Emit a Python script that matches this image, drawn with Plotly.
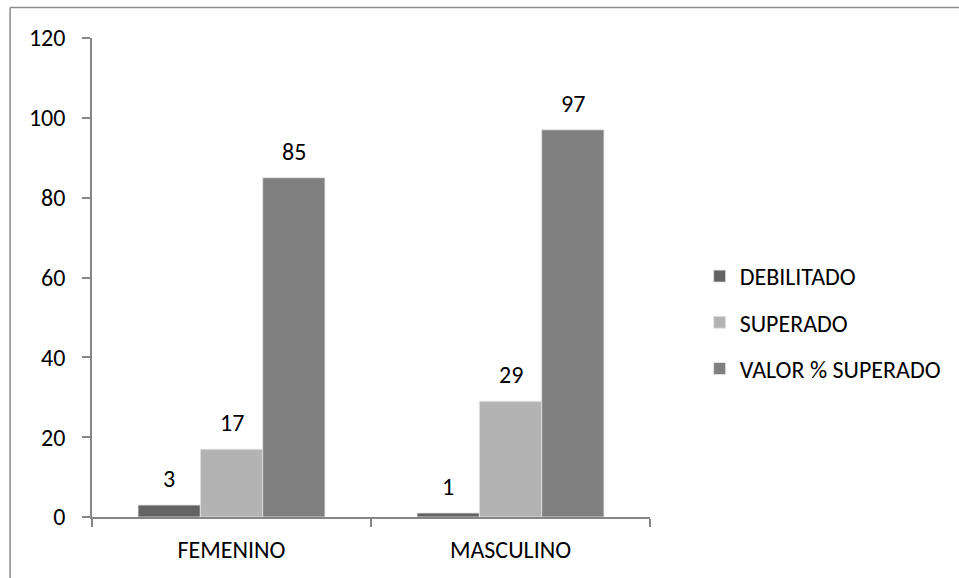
import plotly.graph_objects as go

categories = ["FEMENINO", "MASCULINO"]
debilitado = [3, 1]
superado = [17, 29]
valor_superado = [85, 97]
series_names = ["DEBILITADO", "SUPERADO", "VALOR % SUPERADO"]
series_colors = ["#636363", "#b3b3b3", "#808080"]
y_ticks = [0, 20, 40, 60, 80, 100, 120]

W, H = 959, 578
ML, MR, MT, MB = 92, 305, 38, 61
FONT = "Carlito, Calibri, Lato, sans-serif"
FS = 24
bargap = 0.33

fig = go.Figure()
all_series = [debilitado, superado, valor_superado]
for i, (name, vals, col) in enumerate(zip(series_names, all_series, series_colors)):
    fig.add_trace(go.Bar(
        x=categories, y=vals, name=name, legendgroup=name,
        marker=dict(color=col, line=dict(color="#e6e6e6", width=0.8)),
    ))

# data labels
nser = len(all_series)
bw = (1 - bargap) / nser
for i, vals in enumerate(all_series):
    off = (i - (nser - 1) / 2) * bw
    for j, v in enumerate(vals):
        fig.add_annotation(x=j + off, y=v, xref="x", yref="y", text=str(v),
                           showarrow=False, yanchor="bottom", yshift=10,
                           font=dict(family=FONT, size=FS, color="#000000"))

# chart border (only top and left edges visible in the reference)
plot_w = W - ML - MR
plot_h = H - MT - MB
bx0 = (9.5 - ML) / plot_w
bx1 = (W + 40 - ML) / plot_w
by0 = -(H + 40 - MT - plot_h) / plot_h
by1 = (H - 7.5 - MB) / plot_h
border = dict(color="#8c8c8c", width=1.5)
fig.add_shape(type="line", xref="paper", yref="paper", x0=bx0, x1=bx1, y0=by1, y1=by1,
              line=border, layer="below")
fig.add_shape(type="line", xref="paper", yref="paper", x0=bx0, x1=bx0, y0=by0, y1=by1,
              line=border, layer="below")

fig.update_layout(
    width=W, height=H,
    margin=dict(l=ML, r=MR, t=MT, b=MB),
    paper_bgcolor="white", plot_bgcolor="white",
    barmode="group", bargap=bargap, bargroupgap=0,
    font=dict(family=FONT, size=FS, color="#000000"),
    showlegend=True,
    legend=dict(x=(704 - ML) / plot_w, y=(H - MB - 254) / plot_h, xanchor="left", yanchor="top",
                tracegroupgap=12, font=dict(family=FONT, size=FS),
                bgcolor="rgba(0,0,0,0)"),
    xaxis=dict(showline=True, linecolor="#868686", linewidth=1.5,
               ticks="outside", tickson="boundaries", ticklen=8, tickcolor="#868686",
               tickwidth=1.5, showgrid=False, ticklabelstandoff=10,
               tickfont=dict(family=FONT, size=FS)),
    yaxis=dict(range=[0, 120], tickvals=y_ticks, showline=True, linecolor="#868686",
               linewidth=1.5, ticks="outside", ticklen=8, tickcolor="#868686",
               tickwidth=1.5, showgrid=False, zeroline=False, ticklabelstandoff=12,
               tickfont=dict(family=FONT, size=FS)),
)

fig.write_html("out.html", config={"displayModeBar": False},
               post_script="document.body.style.margin='0';document.body.style.overflow='hidden';")
